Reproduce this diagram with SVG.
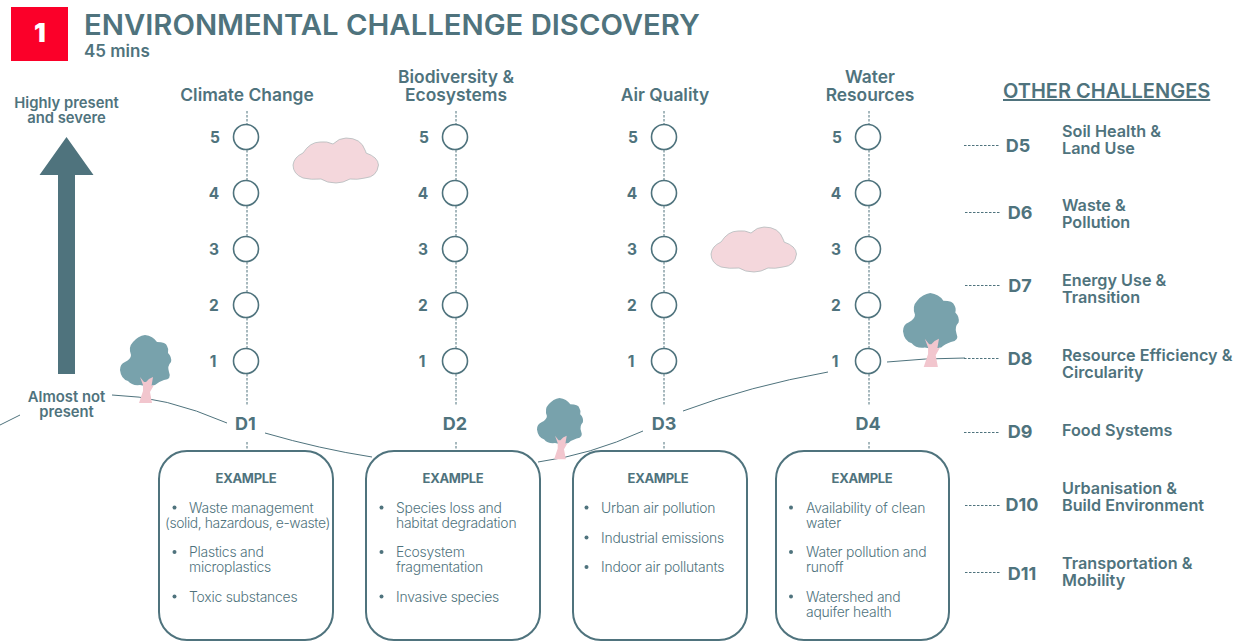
<svg xmlns="http://www.w3.org/2000/svg" width="1253" height="642" viewBox="0 0 1253 642">
<style>
text{font-family:Inter,"Open Sans","Liberation Sans",sans-serif;fill:#4f737d;font-weight:600}
.h{font-size:17.400px;text-anchor:middle}
.n{font-size:15.500px;text-anchor:middle;font-weight:700}
.d{font-size:18px;text-anchor:middle;font-weight:700}
.o{font-size:16.200px}
.s{font-size:14.800px;text-anchor:middle}
.e{font-size:13px;text-anchor:middle;font-weight:700;letter-spacing:-.3px}
.b{font-size:13.900px;font-weight:300;letter-spacing:-.22px}
.box{fill:#fff;stroke:#4f737d;stroke-width:2}
.dash{stroke:#4f737d;stroke-width:1;stroke-dasharray:2.5 1.5;fill:none}
.wave{stroke:#4f737d;stroke-width:1;fill:none}
.c{fill:#fff;stroke:#4f737d;stroke-width:1.6}
.bul{fill:#4f737d}
</style>
<defs>
<g id="tree">
<path fill="#78a2ac" d="M25 0Q33 1 37 7Q46 7 47 11Q49 14 48 18Q52 22 51 27Q47 31 49 37Q52 44 44 45Q38 47 35 50Q27 52 20 50Q12 51 8 46Q1 44 0 35Q0 29 5 27Q11 24 11 20Q8 12 13 7Q18 1 25 0Z"/>
<path fill="#f2c6ce" d="M20 42L24 47L26 47L29 44L33 42L31.500 51L34 50L30 57L32 68L19 68L23 56L23 50Z"/>
</g>
<path id="cloud" fill="#f4d7dc" stroke="#a9b4b6" stroke-width=".7" d="M0 27Q1 19 10 15Q17 4 27 4Q34 3 40 6Q46 0 53 0Q68 0 72 12Q73 14 73 15Q85 19 85.500 27Q84 39 72 40Q64 42 57 41Q50 45 43 45Q34 45 28 41Q18 42 10 40Q0 36 0 27Z"/>
</defs>
<g id="header">
<rect x="11" y="7" width="57" height="54" fill="#fb0029"/>
<text x="40" y="42" style="fill:#fff;font-size:26px;font-weight:900;text-anchor:middle">1</text>
<text x="84" y="35" style="font-size:28px;font-weight:600" textLength="616" lengthAdjust="spacingAndGlyphs">ENVIRONMENTAL CHALLENGE DISCOVERY</text>
<text x="84" y="57" style="font-size:17px">45 mins</text>
</g>
<g id="connectors">
<path class="wave" d="M0 425L20 415"/>
<path class="wave" d="M112 395Q165 396 227 423"/>
<path class="wave" d="M265 433Q320 449 372 457"/>
<path class="wave" d="M538 462Q590 455 643 431"/>
<path class="wave" d="M683 411Q750 386 828 372"/>
<path class="wave" d="M887 362Q925 358 965 358"/>
<path class="dash" d="M247 111V125M247 150V181M247 206V237M247 262V293M247 318V349M247 374V405M247 442V451"/>
<path class="dash" d="M456 111V125M456 150V181M456 206V237M456 262V293M456 318V349M456 374V405M456 442V451"/>
<path class="dash" d="M664 111V125M664 150V181M664 206V237M664 262V293M664 318V349M664 374V405M664 442V451"/>
<path class="dash" d="M869 111V125M869 150V181M869 206V237M869 262V293M869 318V349M869 374V405M869 442V451"/>
<path class="dash" d="M964 145.500H999M965 212.500H1000M965 285.500H1000M964 358.500H999M964 432.500H999M965 505.500H1000M965 572.500H1000"/>
</g>
<g id="axis">
<text class="s" x="66.500" y="108">Highly present</text>
<text class="s" x="66.500" y="123">and severe</text>
<path fill="#4f737d" d="M66.500 137L93.500 175H75V374H58V175H39.500Z"/>
<text class="s" x="66.500" y="402">Almost not</text>
<text class="s" x="66.500" y="417">present</text>
</g>
<g id="deco">
<use href="#cloud" x="293" y="138"/>
<use href="#cloud" x="711" y="227"/>
<use href="#tree" x="120" y="335"/>
<use href="#tree" transform="translate(537 398) scale(.9)"/>
<use href="#tree" transform="translate(903 293) scale(1.09)"/>
</g>
<g id="col-d1">
<text class="h" x="247" y="101">Climate Change</text>
<circle class="c" cx="246" cy="137" r="12.500"/><circle class="c" cx="246" cy="193" r="12.500"/><circle class="c" cx="246" cy="249" r="12.500"/><circle class="c" cx="246" cy="305" r="12.500"/><circle class="c" cx="246" cy="361" r="12.500"/>
<text class="n" x="215" y="143">5</text><text class="n" x="214" y="199">4</text><text class="n" x="214" y="255">3</text><text class="n" x="214" y="311">2</text><text class="n" x="213" y="367">1</text>
<text class="d" x="245.500" y="430">D1</text>
</g>
<g id="col-d2">
<text class="h" x="456" y="83">Biodiversity &amp;</text><text class="h" x="456" y="101">Ecosystems</text>
<circle class="c" cx="455" cy="137" r="12.500"/><circle class="c" cx="455" cy="193" r="12.500"/><circle class="c" cx="455" cy="249" r="12.500"/><circle class="c" cx="455" cy="305" r="12.500"/><circle class="c" cx="455" cy="361" r="12.500"/>
<text class="n" x="424" y="143">5</text><text class="n" x="423" y="199">4</text><text class="n" x="423" y="255">3</text><text class="n" x="423" y="311">2</text><text class="n" x="422" y="367">1</text>
<text class="d" x="455" y="430">D2</text>
</g>
<g id="col-d3">
<text class="h" x="665" y="101">Air Quality</text>
<circle class="c" cx="664" cy="137" r="12.500"/><circle class="c" cx="664" cy="193" r="12.500"/><circle class="c" cx="664" cy="249" r="12.500"/><circle class="c" cx="664" cy="305" r="12.500"/><circle class="c" cx="664" cy="361" r="12.500"/>
<text class="n" x="633" y="143">5</text><text class="n" x="632" y="199">4</text><text class="n" x="632" y="255">3</text><text class="n" x="632" y="311">2</text><text class="n" x="631" y="367">1</text>
<text class="d" x="664" y="430">D3</text>
</g>
<g id="col-d4">
<text class="h" x="870" y="83">Water</text><text class="h" x="870" y="101">Resources</text>
<circle class="c" cx="868" cy="137" r="12.500"/><circle class="c" cx="868" cy="193" r="12.500"/><circle class="c" cx="868" cy="249" r="12.500"/><circle class="c" cx="868" cy="305" r="12.500"/><circle class="c" cx="868" cy="361" r="12.500"/>
<text class="n" x="837" y="143">5</text><text class="n" x="836" y="199">4</text><text class="n" x="836" y="255">3</text><text class="n" x="836" y="311">2</text><text class="n" x="835" y="367">1</text>
<text class="d" x="868" y="430">D4</text>
</g>
<g id="box-d1">
<rect class="box" x="159" y="451" width="174" height="189" rx="28"/>
<text class="e" x="246" y="483">EXAMPLE</text>
<circle class="bul" cx="174.500" cy="507.500" r="2"/><circle class="bul" cx="174.500" cy="552" r="2"/><circle class="bul" cx="174.500" cy="596.500" r="2"/>
<text class="b" x="189" y="513">Waste management</text><text class="b" x="165" y="528" style="letter-spacing:-.4px">(solid, hazardous, e-waste)</text>
<text class="b" x="189" y="557">Plastics and</text><text class="b" x="189" y="572">microplastics</text>
<text class="b" x="189" y="602">Toxic substances</text>
</g>
<g id="box-d2">
<rect class="box" x="366" y="451" width="174" height="189" rx="28"/>
<text class="e" x="453" y="483">EXAMPLE</text>
<circle class="bul" cx="381.500" cy="507.500" r="2"/><circle class="bul" cx="381.500" cy="552" r="2"/><circle class="bul" cx="381.500" cy="596.500" r="2"/>
<text class="b" x="396" y="513">Species loss and</text><text class="b" x="396" y="528">habitat degradation</text>
<text class="b" x="396" y="557">Ecosystem</text><text class="b" x="396" y="572">fragmentation</text>
<text class="b" x="396" y="602">Invasive species</text>
</g>
<g id="box-d3">
<rect class="box" x="573" y="451" width="174" height="189" rx="28"/>
<text class="e" x="658" y="483">EXAMPLE</text>
<circle class="bul" cx="586.500" cy="507.500" r="2"/><circle class="bul" cx="586.500" cy="537.500" r="2"/><circle class="bul" cx="586.500" cy="567" r="2"/>
<text class="b" x="601" y="513">Urban air pollution</text>
<text class="b" x="601" y="543">Industrial emissions</text>
<text class="b" x="601" y="572">Indoor air pollutants</text>
</g>
<g id="box-d4">
<rect class="box" x="776" y="451" width="173" height="189" rx="28"/>
<text class="e" x="862" y="483">EXAMPLE</text>
<circle class="bul" cx="791" cy="507.500" r="2"/><circle class="bul" cx="791" cy="552" r="2"/><circle class="bul" cx="791" cy="596.500" r="2"/>
<text class="b" x="806" y="513">Availability of clean</text><text class="b" x="806" y="528">water</text>
<text class="b" x="806" y="557">Water pollution and</text><text class="b" x="806" y="572">runoff</text>
<text class="b" x="806" y="602">Watershed and</text><text class="b" x="806" y="617">aquifer health</text>
</g>
<g id="others">
<text x="1003" y="98" style="font-size:20px;text-decoration:underline">OTHER CHALLENGES</text>
<text class="d" x="1018" y="152">D5</text><text class="o" x="1062" y="137">Soil Health &amp;</text><text class="o" x="1062" y="154">Land Use</text>
<text class="d" x="1020" y="219">D6</text><text class="o" x="1062" y="211">Waste &amp;</text><text class="o" x="1062" y="228">Pollution</text>
<text class="d" x="1020" y="292">D7</text><text class="o" x="1062" y="286">Energy Use &amp;</text><text class="o" x="1062" y="303">Transition</text>
<text class="d" x="1020" y="365">D8</text><text class="o" x="1062" y="361">Resource Efficiency &amp;</text><text class="o" x="1062" y="378">Circularity</text>
<text class="d" x="1020" y="438">D9</text><text class="o" x="1062" y="436">Food Systems</text>
<text class="d" x="1022" y="511">D10</text><text class="o" x="1062" y="494">Urbanisation &amp;</text><text class="o" x="1062" y="511">Build Environment</text>
<text class="d" x="1022" y="580">D11</text><text class="o" x="1062" y="569">Transportation &amp;</text><text class="o" x="1062" y="586">Mobility</text>
</g>
</svg>
